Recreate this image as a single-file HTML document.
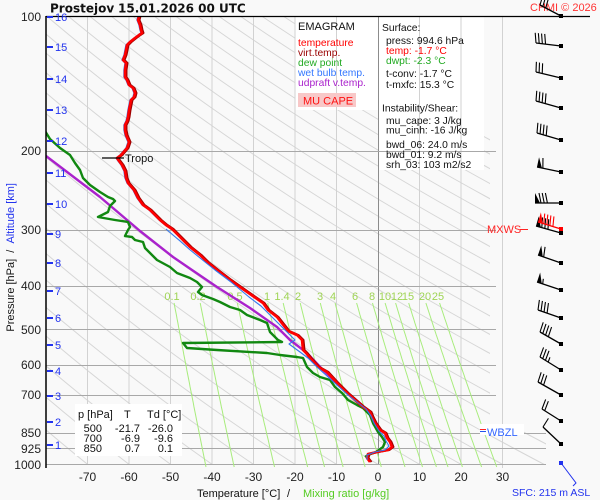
<!DOCTYPE html>
<html><head><meta charset="utf-8"><title>Emagram Prostejov</title>
<style>
html,body{margin:0;padding:0;background:#f9f9f9;width:600px;height:500px;overflow:hidden}
svg{display:block}
text{font-family:"Liberation Sans",Arial,sans-serif}
</style></head><body>
<svg id="s" xmlns="http://www.w3.org/2000/svg" xmlns:xlink="http://www.w3.org/1999/xlink" width="600" height="500" viewBox="0 0 600 500">
<defs>
<clipPath id="cad"><polygon points="46,16 490,16 490,425 546,425 546,464 46,464"/></clipPath>
<clipPath id="cpl"><rect x="46" y="16" width="500" height="452"/></clipPath>
<clipPath id="cup"><rect x="46" y="16" width="500" height="212"/></clipPath>
<polyline id="tl" fill="none" points="139,16 138,20 140,25 141,30 142,33 139,35 135,38 130,42 127,45 126,50 125,55 123,60 126,63 125,70 125,77 127,80 129,85 133,88 135,93 134,97 131,100 130,105 129,110 128,117 127,121 125,125 125,130 126,135 129,142 127,148 121,155 117,158 119,161 122,165 125,171 126,178 128,183 134,190 138,198 143,205 150,210 155,215 160,220 166,225 172,229 181,238 190,247 200,255 207,262 217,270 230,280 247,292 263,303 268,310 277,317 288,331 297,335 302,340 303,350 306,353 310,358 318,367 327,372 337,383 347,393 355,400 363,407 370,412 372,417 375,423 380,430 385,433 387,438 390,442 392,447 388,450 377,452 368,454 367,458 370,462"/>
</defs>
<rect width="600" height="500" fill="#f9f9f9"/>
<!-- dry adiabats -->
<g id="ad" clip-path="url(#cad)" stroke="#d6d6d6" stroke-width="1" fill="none"></g>
<!-- boxes -->
<rect x="295" y="17" width="83" height="93" fill="#ffffff"/>
<rect x="378" y="17" width="106" height="153" fill="#ffffff"/>
<!-- vertical grid -->
<g stroke="#d2d2d2" stroke-width="1">
<line x1="87.5" y1="16" x2="87.5" y2="464"/>
<line x1="129" y1="16" x2="129" y2="464"/>
<line x1="170.5" y1="16" x2="170.5" y2="464"/>
<line x1="212" y1="16" x2="212" y2="464"/>
<line x1="253.5" y1="16" x2="253.5" y2="464"/>
<line x1="295" y1="16" x2="295" y2="464"/>
<line x1="336.5" y1="16" x2="336.5" y2="464"/>
<line x1="419.5" y1="16" x2="419.5" y2="464"/>
<line x1="461" y1="16" x2="461" y2="464"/>
<line x1="502.5" y1="16" x2="502.5" y2="468"/>
</g>
<line x1="378.5" y1="16" x2="378.5" y2="464" stroke="#8c8c8c" stroke-width="1"/>
<!-- horizontal grid -->
<g stroke="#a8a8a8" stroke-width="1">
<line x1="46" y1="151.5" x2="496" y2="151.5"/>
<line x1="46" y1="230.5" x2="496" y2="230.5"/>
<line x1="46" y1="286.5" x2="496" y2="286.5"/>
<line x1="46" y1="329.5" x2="496" y2="329.5"/>
<line x1="46" y1="365.5" x2="496" y2="365.5"/>
<line x1="46" y1="395.5" x2="496" y2="395.5"/>
<line x1="46" y1="433.5" x2="546" y2="433.5"/>
<line x1="46" y1="448.5" x2="546" y2="448.5"/>
<line x1="46" y1="464.5" x2="546" y2="464.5"/>
</g>
<!-- mixing ratio lines -->
<g id="mr" stroke="#a8ec7c" stroke-width="1" fill="none"></g>
<g fill="#9fd455" font-size="11" text-anchor="middle">
<text x="172" y="300">0.1</text>
<text x="198" y="300">0.2</text>
<text x="235" y="300">0.5</text>
<text x="267" y="300">1</text>
<text x="282" y="300">1.4</text>
<text x="298" y="300">2</text>
<text x="320" y="300">3</text>
<text x="333" y="300">4</text>
<text x="355" y="300">6</text>
<text x="372" y="300">8</text>
<text x="385" y="300">10</text>
<text x="397" y="300">12</text>
<text x="408" y="300">15</text>
<text x="425" y="300">20</text>
<text x="438" y="300">25</text>
</g>
<!-- profiles -->
<g clip-path="url(#cpl)" fill="none" stroke-linejoin="round">
<polyline stroke="#aa22cc" stroke-width="2.4" points="46,156 100,197 140,231 173,257 192,270 217,287 250,308 277,327 290,340 307,353 323,370 350,395 362,405 370,415 374,425"/>
<polyline stroke="#118811" stroke-width="2.4" points="45,131 50,139 60,148 70,155 75,163 80,170 83,178 90,185 100,192 108,197 113,199 115,201 110,206 108,212 100,216 98,217 115,220 128,222 130,227 128,230 125,236 132,237 135,240 143,242 145,248 152,255 157,260 170,267 177,273 190,278 197,282 202,287 198,292 202,295 213,299 220,302 230,307 240,310 247,315 260,320 267,323 270,332 278,340 282,342 183,343 187,348 217,350 267,353 280,355 297,357 303,358 307,367 313,373 320,377 330,380 335,387 342,393 348,400 357,405 363,408 370,415 373,423 378,432 382,437 385,442 383,447 376,452 368,455 365,457"/>
<use xlink:href="#tl" stroke="#a00000" stroke-width="2" transform="translate(1.5,0)"/>
<g clip-path="url(#cup)"><use xlink:href="#tl" stroke="#3377ee" stroke-width="1" transform="translate(-1.2,0)"/></g>
<use xlink:href="#tl" stroke="#ff0000" stroke-width="2.6"/>
<polyline stroke="#3377ee" stroke-width="1.1" points="166,229 173,235 180,241 189,249 205,262 215,270 231,282 249,297 261,306 277,322 290,335 295,340 289,344 300,352 308,358 317,367 327,376 337,385 348,395 357,402 366,409 371,416 374,423 379,431 384,436 386,441 389,446 385,450 375,452 367,455 367,460"/>
</g>
<!-- table box -->
<rect x="75" y="404" width="107" height="52" fill="#ffffff"/>
<g font-size="11" fill="#111">
<text x="78" y="418">p [hPa]</text><text x="124" y="418">T</text><text x="147" y="418">Td [&#176;C]</text>
<g text-anchor="end">
<text x="102" y="432">500</text><text x="140" y="432">-21.7</text><text x="173" y="432">-26.0</text>
<text x="102" y="442">700</text><text x="140" y="442">-6.9</text><text x="173" y="442">-9.6</text>
<text x="102" y="452">850</text><text x="140" y="452">0.7</text><text x="173" y="452">0.1</text>
</g>
</g>
<!-- axes -->
<line x1="46" y1="16.5" x2="590" y2="16.5" stroke="#000" stroke-width="1.2"/>
<line x1="46" y1="16" x2="46" y2="468" stroke="#000" stroke-width="1.5"/>
<!-- pressure labels -->
<g font-size="12" fill="#222" text-anchor="end">
<text x="41" y="21">100</text>
<text x="41" y="155">200</text>
<text x="41" y="234">300</text>
<text x="41" y="290">400</text>
<text x="41" y="334">500</text>
<text x="41" y="369">600</text>
<text x="41" y="399">700</text>
<text x="41" y="437">850</text>
<text x="41" y="453">925</text>
<text x="41" y="469">1000</text>
</g>
<!-- km labels -->
<g stroke="#2233ee" stroke-width="2">
<line x1="47" y1="17" x2="53" y2="17"/><line x1="47" y1="47" x2="53" y2="47"/>
<line x1="47" y1="79" x2="53" y2="79"/><line x1="47" y1="110" x2="53" y2="110"/>
<line x1="47" y1="141" x2="53" y2="141"/><line x1="47" y1="173" x2="53" y2="173"/>
<line x1="47" y1="204" x2="53" y2="204"/><line x1="47" y1="234" x2="53" y2="234"/>
<line x1="47" y1="263" x2="53" y2="263"/><line x1="47" y1="291" x2="53" y2="291"/>
<line x1="47" y1="318" x2="53" y2="318"/><line x1="47" y1="345" x2="53" y2="345"/>
<line x1="47" y1="371" x2="53" y2="371"/><line x1="47" y1="396" x2="53" y2="396"/>
<line x1="47" y1="422" x2="53" y2="422"/><line x1="47" y1="445" x2="53" y2="445"/>
</g>
<g font-size="11" fill="#2233ee">
<text x="55" y="21">16</text><text x="55" y="51">15</text><text x="55" y="83">14</text><text x="55" y="114">13</text>
<text x="55" y="145">12</text><text x="55" y="177">11</text><text x="55" y="208">10</text><text x="55" y="238">9</text>
<text x="55" y="267">8</text><text x="55" y="295">7</text><text x="55" y="322">6</text><text x="55" y="349">5</text>
<text x="55" y="375">4</text><text x="55" y="400">3</text><text x="55" y="426">2</text><text x="55" y="449">1</text>
</g>
<!-- y axis title -->
<text transform="translate(14,183) rotate(-90)" text-anchor="end" font-size="11" fill="#111">Pressure [hPa]&#160;&#160;/&#160;&#160;<tspan fill="#2233ee">Altitude [km]</tspan></text>
<!-- x labels -->
<g font-size="12" fill="#222" text-anchor="middle">
<text x="87.5" y="481">-70</text><text x="129" y="481">-60</text><text x="170.5" y="481">-50</text>
<text x="212" y="481">-40</text><text x="253.5" y="481">-30</text><text x="295" y="481">-20</text>
<text x="336.5" y="481">-10</text><text x="378" y="481">0</text><text x="419.5" y="481">10</text>
<text x="461" y="481">20</text><text x="502.5" y="481">30</text>
</g>
<text x="197" y="497" font-size="11" fill="#111">Temperature [&#176;C]</text>
<text x="287" y="497" font-size="11" fill="#111">/</text>
<text x="303" y="497" font-size="11" fill="#55cc22">Mixing ratio [g/kg]</text>
<!-- title -->
<text x="50" y="12.5" font-size="12" font-weight="bold" fill="#111" style="font-family:'DejaVu Sans','Liberation Sans',sans-serif">Prostejov</text>
<text x="118" y="12.5" font-size="12" font-weight="bold" fill="#111" style="font-family:'DejaVu Sans','Liberation Sans',sans-serif">15.01.2026 00 UTC</text>
<text x="530" y="11" font-size="11" fill="#ff3333">CHMI &#169; 2026</text>
<!-- legend -->
<text x="298" y="30" font-size="11" fill="#111">EMAGRAM</text>
<g font-size="10.3">
<text x="298" y="46" fill="#ff0000">temperature</text>
<text x="298" y="56" fill="#990000">virt.temp.</text>
<text x="298" y="66" fill="#22aa22">dew point</text>
<text x="298" y="76" fill="#3377ff">wet bulb temp.</text>
<text x="298" y="86" fill="#aa22cc">udpraft v.temp.</text>
</g>
<rect x="298" y="93" width="58" height="14" fill="#f8c8c8"/>
<text x="303" y="104.5" font-size="11" fill="#ff1111">MU CAPE</text>
<!-- info -->
<g font-size="10.3" fill="#111">
<text x="382" y="31">Surface:</text>
<text x="386" y="44">press: 994.6 hPa</text>
<text x="386" y="54" fill="#ff0000">temp: -1.7 &#176;C</text>
<text x="386" y="64" fill="#22aa22">dwpt: -2.3 &#176;C</text>
<text x="386" y="77">t-conv: -1.7 &#176;C</text>
<text x="386" y="88">t-mxfc: 15.3 &#176;C</text>
<text x="382" y="111.5">Instability/Shear:</text>
<text x="386" y="124">mu_cape: 3 J/kg</text>
<text x="386" y="133.5">mu_cinh: -16 J/kg</text>
<text x="386" y="148">bwd_06: 24.0 m/s</text>
<text x="386" y="158">bwd_01: 9.2 m/s</text>
<text x="386" y="168">srh_03: 103 m2/s2</text>
</g>
<!-- Tropo -->
<line x1="102" y1="158" x2="124" y2="158" stroke="#000" stroke-width="1.2"/>
<text x="125" y="162" font-size="11" fill="#111">Tropo</text>
<!-- MXWS -->
<text x="487" y="233" font-size="11" fill="#ff2222">MXWS</text>
<line x1="520" y1="229.5" x2="528" y2="229.5" stroke="#ff2222" stroke-width="1"/>
<!-- WBZL -->
<rect x="480" y="424" width="44" height="11" fill="#ffffff"/>
<line x1="480" y1="429.5" x2="486" y2="429.5" stroke="#ff2222" stroke-width="1"/>
<line x1="480" y1="431.5" x2="486" y2="431.5" stroke="#2255ee" stroke-width="1"/>
<text x="487" y="436" font-size="11" fill="#3366ff">WBZL</text>
<!-- winds -->
<g id="wb"></g>
<polyline points="561,463 576,483 573,486" fill="none" stroke="#2233ee" stroke-width="1"/>
<rect x="559" y="461" width="4" height="4" fill="#2233ee"/>
<text x="512" y="496" font-size="10.5" fill="#2233ee">SFC: 215 m ASL</text>
</svg>
<script>
(function(){
var X=function(T){return 378+4.15*T;};
var P=function(y){return 100*Math.exp((y-16)/194.7);};
var s='';
for(var th=180;th<=480;th+=10){
  var pts=[];
  for(var y=10;y<=470;y+=6){var p=P(y);var T=(th+3.15)*Math.pow(p/1000,0.2857)-273.15;pts.push(X(T).toFixed(1)+','+y);}
  s+='<polyline points="'+pts.join(' ')+'"/>';
}
document.getElementById('ad').innerHTML=s;
var W=[0.1,0.2,0.5,1,1.4,2,3,4,6,8,10,12,15,20,25];
s='';
for(var i=0;i<W.length;i++){
  var w=W[i],pts=[];
  for(var y=303;y<=470;y+=4){var p=P(y);var e=w*p/(622+w);var L=Math.log(e/6.112);var T=243.5*L/(17.67-L);pts.push(X(T).toFixed(1)+','+y);}
  s+='<polyline points="'+pts.join(' ')+'"/>';
}
document.getElementById('mr').innerHTML=s;
function barb(y0,xt,yt,np,nf,nh,col){
  var x0=561,dx=xt-x0,dy=yt-y0,L=Math.sqrt(dx*dx+dy*dy);dx/=L;dy/=L;
  var px=-dy,py=dx,FL=10,sp=3.2,pos=0,o='';
  o+='<line x1="'+x0+'" y1="'+y0+'" x2="'+xt+'" y2="'+yt+'" stroke="'+col+'" stroke-width="1.3"/>';
  o+='<rect x="'+(x0-2)+'" y="'+(y0-2)+'" width="4" height="4" fill="'+col+'"/>';
  for(var i=0;i<np;i++){
    var ax=xt-dx*pos,ay=yt-dy*pos,bx=xt-dx*(pos+5),by=yt-dy*(pos+5),cx=ax+px*FL,cy=ay+py*FL;
    o+='<polygon points="'+ax+','+ay+' '+bx+','+by+' '+cx+','+cy+'" fill="'+col+'"/>';
    pos+=6;
  }
  for(var i=0;i<nf;i++){
    var ax=xt-dx*pos,ay=yt-dy*pos;
    o+='<line x1="'+ax+'" y1="'+ay+'" x2="'+(ax+px*FL+dx*2)+'" y2="'+(ay+py*FL+dy*2)+'" stroke="'+col+'" stroke-width="1.1"/>';
    pos+=sp;
  }
  for(var i=0;i<nh;i++){
    var ax=xt-dx*pos,ay=yt-dy*pos;
    o+='<line x1="'+ax+'" y1="'+ay+'" x2="'+(ax+px*FL/2+dx)+'" y2="'+(ay+py*FL/2+dy)+'" stroke="'+col+'" stroke-width="1.1"/>';
    pos+=sp;
  }
  return o;
}
var b='';
b+=barb(16,540,5,0,3,0,'#000');
b+=barb(46,536,43,0,4,0,'#000');
b+=barb(78,536,72,0,3,0,'#000');
b+=barb(108,536,101,0,4,0,'#000');
b+=barb(140,537,133,0,4,0,'#000');
b+=barb(172,537,167,1,1,0,'#000');
b+=barb(203,535,203,1,3,0,'#000');
b+=barb(233,536,226,1,3,0,'#000');
b+=barb(229,538,222,1,4,0,'#ff0000');
b+=barb(263,538,255,1,1,0,'#000');
b+=barb(290,537,282,1,0,1,'#000');
b+=barb(318,538,310,0,4,0,'#000');
b+=barb(344,540,332,0,4,0,'#000');
b+=barb(370,540,357,0,3,1,'#000');
b+=barb(395,538,382,0,3,0,'#000');
b+=barb(421,542,409,0,2,0,'#000');
b+=barb(444,543,427,0,1,0,'#000');
document.getElementById('wb').innerHTML=b;
})();
</script>
</body></html>
